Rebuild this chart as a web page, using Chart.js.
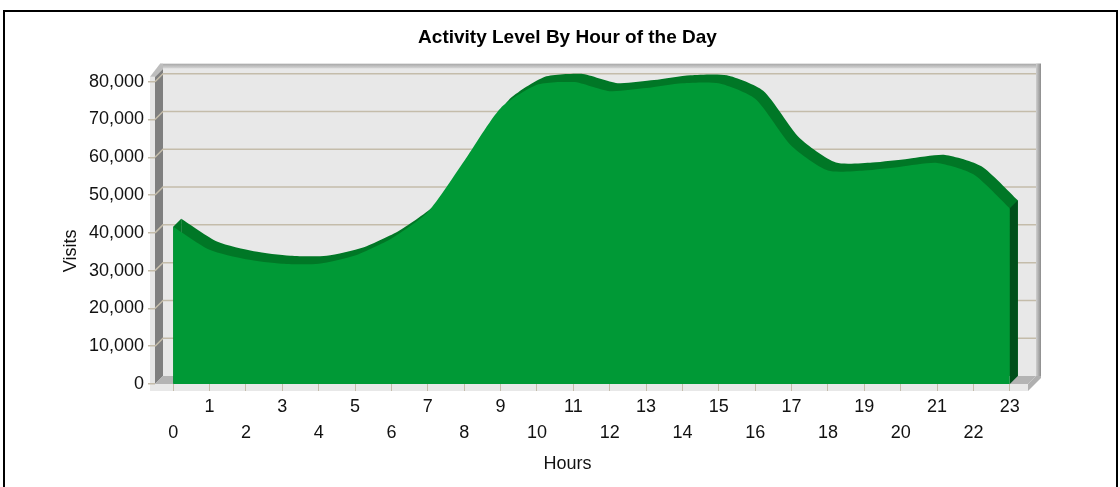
<!DOCTYPE html>
<html>
<head>
<meta charset="utf-8">
<script src="https://cdn.jsdelivr.net/npm/chart.js@4/dist/chart.umd.min.js"></script>
<style>
html,body{margin:0;padding:0;background:#fff;}
#wrap{width:1120px;height:487px;position:relative;}
</style>
</head>
<body>
<div id="wrap"><canvas id="c" width="1120" height="487"></canvas></div>
<script>
// ---- data ----
const hours = [0,1,2,3,4,5,6,7,8,9,10,11,12,13,14,15,16,17,18,19,20,21,22,23];
const visits = [41600,35500,33000,31800,31800,34000,38500,45500,59000,73000,79200,80000,
                77500,78300,79600,79600,75500,63000,56500,56500,57500,58500,55500,46500];
const yMin = 0;
const yMax = 80000;
const yStep = 10000;
const chartTitle = 'Activity Level By Hour of the Day';
const xTitle = 'Hours';
const yTitle = 'Visits';

const FONT = '"Liberation Sans", Arial, sans-serif';
const DEPTH = 8;
const GRID = '#c4bcaa';

const frame3d = {
  id: 'frame3d',
  beforeDraw(chart) {
    const {ctx, chartArea} = chart;
    const {left: L, right: R, top: T, bottom: B} = chartArea;
    const y = chart.scales.y;
    const d = DEPTH;
    ctx.save();
    // outer frame
    ctx.strokeStyle = '#000';
    ctx.lineWidth = 2;
    ctx.strokeRect(4, 11, chart.width - 7, chart.height + 20);
    // back wall
    ctx.fillStyle = '#e8e8e8';
    ctx.fillRect(L + d, T - d - 5, R - L, B - T + 5);
    // left wall (side)
    ctx.fillStyle = '#7f7f7f';
    ctx.beginPath();
    ctx.moveTo(L, T - 5); ctx.lineTo(L + d, T - d - 5); ctx.lineTo(L + d, B - d); ctx.lineTo(L, B);
    ctx.closePath(); ctx.fill();
    // left slab front
    ctx.fillStyle = '#e6e6e6';
    ctx.fillRect(L - 5, T - 5, 5, B - T + 12);
    // gridlines
    ctx.strokeStyle = GRID;
    ctx.lineWidth = 1.5;
    y.ticks.forEach(t => {
      if (t.value === yMin) return;
      const py = y.getPixelForValue(t.value);
      ctx.beginPath();
      ctx.moveTo(L, py); ctx.lineTo(L + d, py - d); ctx.lineTo(R + d, py - d);
      ctx.stroke();
    });
    // floor top
    ctx.fillStyle = '#b4b4b4';
    ctx.beginPath();
    ctx.moveTo(L, B); ctx.lineTo(L + d, B - d); ctx.lineTo(R + d, B - d); ctx.lineTo(R, B);
    ctx.closePath(); ctx.fill();
    // floor front strip
    ctx.fillStyle = '#e8e8e8';
    ctx.fillRect(L - 5, B, R - L + 5, 7);
    // top rim
    const g = ctx.createLinearGradient(0, T - d - 10, 0, T - d - 5);
    g.addColorStop(0, '#a6a6a6'); g.addColorStop(1, '#dadada');
    ctx.fillStyle = g;
    ctx.fillRect(L + d - 3, T - d - 10, R - L + 8, 5);
    // left top cap
    ctx.fillStyle = '#bdbdbd';
    ctx.beginPath();
    ctx.moveTo(L - 5, T - 5); ctx.lineTo(L + d - 3, T - d - 10); ctx.lineTo(L + d, T - d - 10);
    ctx.lineTo(L + d, T - d - 5); ctx.lineTo(L, T - 5);
    ctx.closePath(); ctx.fill();
    // right rim
    const g2 = ctx.createLinearGradient(R + d, 0, R + d + 5, 0);
    g2.addColorStop(0, '#cfcfcf'); g2.addColorStop(1, '#8c8c8c');
    ctx.fillStyle = g2;
    ctx.fillRect(R + d, T - d - 10, 5, B - T + 12);
    // floor right side
    ctx.fillStyle = '#b0b0b0';
    ctx.beginPath();
    ctx.moveTo(R, B); ctx.lineTo(R + d, B - d); ctx.lineTo(R + d + 5, B - d);
    ctx.lineTo(R + d + 5, B - d + 2); ctx.lineTo(R, B + 7);
    ctx.closePath(); ctx.fill();
    ctx.restore();
  },
  beforeDatasetsDraw(chart) {
    const {ctx} = chart;
    const meta = chart.getDatasetMeta(0);
    const line = meta.dataset;
    const pts = meta.data;
    if (!pts.length) return;
    const base = chart.scales.y.getPixelForValue(0);
    const d = DEPTH;
    const first = pts[0], last = pts[pts.length - 1];
    ctx.save();
    // left cap
    ctx.fillStyle = '#007726';
    ctx.beginPath();
    ctx.moveTo(first.x, first.y); ctx.lineTo(first.x + d, first.y - d);
    ctx.lineTo(first.x + d, base - d); ctx.lineTo(first.x, base);
    ctx.closePath(); ctx.fill();
    // shifted top surface
    ctx.save();
    ctx.translate(d, -d);
    ctx.beginPath();
    line.path(ctx);
    ctx.lineTo(last.x, base);
    ctx.lineTo(first.x, base);
    ctx.closePath();
    ctx.fillStyle = '#007726';
    ctx.fill();
    ctx.restore();
    // right face
    ctx.fillStyle = '#004f1b';
    ctx.beginPath();
    ctx.moveTo(last.x, last.y); ctx.lineTo(last.x + d, last.y - d);
    ctx.lineTo(last.x + d, base - d); ctx.lineTo(last.x, base);
    ctx.closePath(); ctx.fill();
    ctx.restore();
  },
  afterDraw(chart) {
    const {ctx, chartArea} = chart;
    ctx.save();
    ctx.fillStyle = '#111';
    ctx.font = '18px ' + FONT;
    ctx.textAlign = 'center';
    ctx.textBaseline = 'middle';
    ctx.translate(71, (chartArea.top + chartArea.bottom) / 2 + 18);
    ctx.rotate(-Math.PI / 2);
    ctx.fillText(yTitle, 0, 0);
    ctx.restore();
  }
};

new Chart(document.getElementById('c'), {
  type: 'line',
  data: {
    labels: hours.map(String),
    datasets: [{
      label: yTitle,
      data: visits,
      fill: 'origin',
      backgroundColor: '#009936',
      borderWidth: 0,
      pointRadius: 0,
      pointHoverRadius: 0,
      tension: 0.22
    }]
  },
  options: {
    responsive: false,
    animation: false,
    devicePixelRatio: 1,
    layout: {padding: {left: 15, right: 0, top: 0, bottom: 0}},
    plugins: {
      legend: {display: false},
      tooltip: {enabled: false},
      title: {
        display: true, text: chartTitle, color: '#000',
        font: {family: FONT, size: 19, weight: 'bold', lineHeight: 1.2},
        padding: {top: 26.6, bottom: 32.3}
      },
      subtitle: {
        display: true, position: 'bottom', text: xTitle, color: '#111',
        font: {family: FONT, size: 18, weight: 'normal', lineHeight: 1.2},
        padding: {top: 4, bottom: 12.2}
      }
    },
    scales: {
      x: {
        type: 'category',
        offset: true,
        border: {display: false},
        grid: {offset: false, drawOnChartArea: false, drawTicks: true, tickLength: 7, color: GRID, lineWidth: 1},
        ticks: {
          autoSkip: false, maxRotation: 0, minRotation: 0, padding: 3, color: '#111',
          font: {family: FONT, size: 18, lineHeight: 1.45},
          callback: (v, i) => (i % 2 ? [String(hours[i]), ''] : ['', String(hours[i])])
        },
        afterFit: s => { s.height = 65.2; }
      },
      y: {
        type: 'linear',
        min: yMin, max: yMax,
        border: {display: false},
        grid: {drawOnChartArea: false, drawTicks: true, tickLength: 7, color: GRID, lineWidth: 1.5},
        ticks: {
          stepSize: yStep, padding: 4, color: '#111',
          font: {family: FONT, size: 18},
          callback: v => v.toLocaleString('en-US')
        },
        afterFit: s => { s.width = 140; }
      },
      yR: {
        type: 'linear', position: 'right', display: true,
        grid: {display: false}, border: {display: false}, ticks: {display: false},
        afterFit: s => { s.width = 92; }
      }
    }
  },
  plugins: [frame3d]
});
</script>
</body>
</html>
